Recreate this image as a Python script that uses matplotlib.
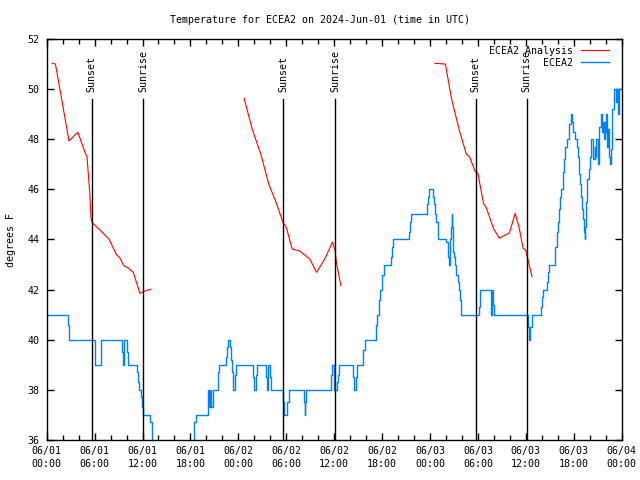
import numpy as np
import matplotlib
matplotlib.use("Agg")
import matplotlib.pyplot as plt
from matplotlib.ticker import MultipleLocator, FixedLocator, FixedFormatter

title = "Temperature for ECEA2 on 2024-Jun-01 (time in UTC)"
ylabel = "degrees F"

# Hours since 2024-06-01 00:00 UTC
tick_hours = [0, 6, 12, 18, 24, 30, 36, 42, 48, 54, 60, 66, 72]
tick_labels = ["06/01\n00:00", "06/01\n06:00", "06/01\n12:00", "06/01\n18:00",
               "06/02\n00:00", "06/02\n06:00", "06/02\n12:00", "06/02\n18:00",
               "06/03\n00:00", "06/03\n06:00", "06/03\n12:00", "06/03\n18:00",
               "06/04\n00:00"]

sunset_hours = [5.62, 29.65, 53.72]
sunrise_hours = [12.1, 36.12, 60.1]

# Analysis (red), three segments
red_hours_1 = [0.7, 1.1, 2.8, 3.9, 4.8, 5.05, 5.4, 5.55, 5.7, 6.67, 7.8, 8.76, 9.1, 9.67,
               10.2, 10.84, 11.68, 12.09, 13.05]
red_temp_1 = [51.03, 51.0, 47.93, 48.28, 47.48, 47.3, 45.84, 44.85, 44.67, 44.38, 44.02,
              43.38, 43.3, 42.95, 42.87, 42.69, 41.85, 41.92, 42.02]
red_hours_2 = [24.73, 25.73, 26.82, 27.82, 28.78, 29.6, 29.95, 30.1, 30.74, 31.7, 32.95,
               33.8, 34.82, 35.78, 36.1, 36.3, 36.84]
red_temp_2 = [49.63, 48.41, 47.4, 46.2, 45.44, 44.67, 44.51, 44.38, 43.62, 43.54, 43.22,
              42.69, 43.22, 43.89, 43.58, 43.05, 42.16]
red_hours_3 = [48.6, 49.93, 50.68, 51.72, 52.55, 52.96, 53.63, 54.0, 54.7, 55.05, 55.97,
               56.7, 57.95, 58.66, 59.2, 59.65, 59.98, 60.77]
red_temp_3 = [51.03, 51.0, 49.63, 48.3, 47.41, 47.3, 46.73, 46.64, 45.44, 45.27, 44.42,
              44.05, 44.27, 45.04, 44.42, 43.65, 43.58, 42.52]

# Observations (blue)
obs_hours = [0.0, 2.7, 2.78,
             6.0, 6.05, 6.1, 6.8, 6.85,
             9.45, 9.5, 9.65,
             10.0, 10.15,
             11.33, 11.45, 11.55, 11.75, 11.9, 12.05,
             13.0, 13.15,
             18.45, 18.75,
             20.15, 20.25, 20.35, 20.5, 20.6, 20.85,
             21.4, 21.55,
             22.5, 22.6, 22.75,
             23.0, 23.1, 23.2, 23.35, 23.55, 23.7,
             25.85, 25.95, 26.25, 26.35,
             27.45, 27.55, 27.7, 27.95, 28.05,
             29.6, 29.7, 30.1, 30.35,
             32.2, 32.3, 32.4, 32.5,
             35.65, 35.75, 35.95, 36.3, 36.45, 36.6,
             38.35, 38.5, 38.75, 38.85,
             39.6, 39.8,
             41.2, 41.4,
             41.6, 41.8,
             42.0, 42.2,
             43.1, 43.25, 43.4,
             45.4, 45.5, 45.65,
             47.6, 47.7, 47.85,
             48.4, 48.5, 48.6, 48.8, 48.95, 49.05,
             49.95, 50.3, 50.4, 50.5, 50.6, 50.7, 50.8, 50.9, 51.0, 51.15, 51.3, 51.45,
             51.6, 51.75, 51.9,
             54.1, 54.3,
             55.7, 55.75, 55.85, 56.0,
             60.3, 60.4, 60.55, 60.75,
             61.95, 62.05, 62.15,
             62.65, 62.8, 62.95,
             63.7, 63.85, 64.0, 64.1, 64.25, 64.45, 64.6, 64.7, 64.8, 64.95, 65.1,
             65.35, 65.45, 65.6, 65.8, 65.95, 66.1, 66.4, 66.5, 66.6, 66.75, 66.85,
             67.0, 67.1, 67.25, 67.35, 67.45, 67.55, 67.7, 67.85, 68.0, 68.1, 68.2,
             68.45, 68.6, 68.7, 68.8, 69.0, 69.1, 69.2, 69.35, 69.55, 69.65, 69.8,
             69.9, 70.0, 70.1, 70.2, 70.3, 70.4, 70.55, 70.65, 70.75, 70.85, 71.0,
             71.1, 71.35, 71.45, 71.55, 71.65, 72.0]
obs_temp = [41, 40.6, 40,
            39.6, 39.3, 39, 39.5, 40,
            39.5, 39, 40,
            39.5, 39,
            38.7, 38.3, 38, 37.7, 37.3, 37,
            36.7, 35.0,
            36.7, 37,
            37.5, 38, 37.3, 38, 37.3, 38,
            38.7, 39,
            39.3, 39.7, 40,
            39.7, 39.2, 38.7, 38, 38.6, 39,
            38.5, 38, 38.6, 39,
            38.5, 38, 39, 38.5, 38,
            37.5, 37, 37.5, 38,
            37.5, 37, 37.5, 38,
            38.6, 39, 38, 38.3, 38.6, 39,
            38.5, 38, 38.5, 39,
            39.6, 40,
            40.6, 41,
            41.6, 42,
            42.6, 43,
            43.3, 43.7, 44,
            44.3, 44.7, 45,
            45.4, 45.7, 46,
            45.7, 45.4, 45, 44.7, 44.3, 44,
            43.9, 43.3, 43, 44, 44.5, 45, 44.5, 43.5, 43.3, 43, 42.6, 42.3,
            42, 41.6, 41,
            41.3, 42,
            41, 42, 41.4, 41,
            40.5, 40, 40.5, 41,
            41.3, 41.7, 42,
            42.3, 42.7, 43,
            43.7, 44.3, 44.7, 45.2, 45.7, 46, 46.4, 46.7, 47.2, 47.7, 48,
            48.3, 48.6, 49, 48.7, 48.3, 48, 47.7, 47.3, 46.6, 46.2, 45.7,
            45.2, 44.8, 44.3, 44, 44.5, 45.5, 46.4, 46.8, 47.3, 47.7, 48,
            47.2, 47.7, 47.3, 48, 47, 47.7, 48.5, 49, 48.3, 48.7, 48,
            48.7, 48.3, 49, 47.7, 48.4, 47.3, 47, 47.6, 48.6, 49.2, 49.8,
            50, 49.5, 50, 49, 50, 50]

fig = plt.figure(figsize=(6.4, 4.8), dpi=100)
ax = fig.add_axes([46.67 / 640, 40 / 480, 575 / 640, 401 / 480])

font = "DejaVu Sans Mono"
fs = 7.2

red_h = red_hours_1 + [np.nan] + red_hours_2 + [np.nan] + red_hours_3
red_t = red_temp_1 + [np.nan] + red_temp_2 + [np.nan] + red_temp_3
ax.plot(red_h, red_t, color="#ff0000", lw=0.8, label="ECEA2 Analysis")
ax.plot(obs_hours, obs_temp, color="#0080ff", lw=1.0, drawstyle="steps-post", label="ECEA2")

line_top = 0.85
for h in sunset_hours:
    ax.axvline(h, ymin=0, ymax=line_top, color="black", lw=1.0)
    ax.text(h, 0.868, "Sunset", rotation=90, ha="center", va="bottom",
            transform=ax.get_xaxis_transform(), fontsize=fs, family=font)
for h in sunrise_hours:
    ax.axvline(h, ymin=0, ymax=line_top, color="black", lw=1.0)
    ax.text(h, 0.868, "Sunrise", rotation=90, ha="center", va="bottom",
            transform=ax.get_xaxis_transform(), fontsize=fs, family=font)

ax.set_xlim(0, 72)
ax.set_ylim(36, 52)
ax.xaxis.set_major_locator(FixedLocator(tick_hours))
ax.xaxis.set_major_formatter(FixedFormatter(tick_labels))
ax.xaxis.set_minor_locator(MultipleLocator(2))
ax.yaxis.set_major_locator(MultipleLocator(2))
ax.tick_params(which="both", direction="in", top=True, right=True, width=1.0,
               labelsize=fs)
ax.tick_params(axis="x", which="major", pad=4.5)
ax.tick_params(axis="y", which="major", pad=5)
ax.tick_params(which="major", length=5)
ax.tick_params(which="minor", length=3.5)
for lab in ax.get_xticklabels():
    lab.set_family(font)
    lab.set_linespacing(1.4)
for lab in ax.get_yticklabels():
    lab.set_family(font)
for s in ax.spines.values():
    s.set_linewidth(1.0)

fig.text(0.5, 1 - 20 / 480, title, ha="center", va="center", fontsize=fs, family=font)
fig.text(11 / 640, 0.5, ylabel, rotation=90, ha="center", va="center",
         fontsize=fs, family=font)

leg = ax.legend(loc="upper right", frameon=False, markerfirst=False,
                prop={"family": font, "size": fs}, handlelength=2.8,
                handletextpad=0.8, borderaxespad=0.3, labelspacing=0.2,
                bbox_to_anchor=(0.99, 1.0))

fig.savefig("out.png", dpi=100)
